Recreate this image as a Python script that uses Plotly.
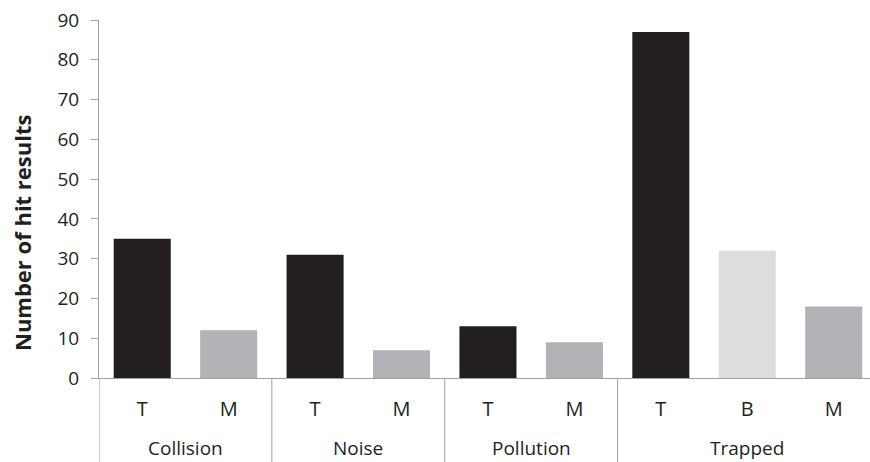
import plotly.graph_objects as go

groups = ["Collision", "Collision", "Noise", "Noise", "Pollution", "Pollution",
          "Trapped", "Trapped", "Trapped"]
types = ["T", "M", "T", "M", "T", "M", "T", "B", "M"]
hits = [35, 12, 31, 7, 13, 9, 87, 32, 18]
y_ticks = [0, 10, 20, 30, 40, 50, 60, 70, 80, 90]
type_colors = {"T": "#231f20", "M": "#b1b3b6", "B": "#dcddde"}

FONT = "Open Sans"
TXT = "#231f20"
AX = "#a0a0a0"

W, H = 870, 462
M_L, M_R, M_T, M_B = 99, 0, 20, 84
PLOT_H = H - M_T - M_B

pos = list(range(len(types)))

# group spans (derived from the data order)
group_names = []
group_spans = {}
for i, g in enumerate(groups):
    if g not in group_spans:
        group_names.append(g)
        group_spans[g] = [i, i]
    group_spans[g][1] = i

fig = go.Figure(go.Bar(
    x=pos,
    y=hits,
    marker=dict(color=[type_colors[t] for t in types], line=dict(width=0)),
    customdata=[[g, t] for g, t in zip(groups, types)],
    hovertemplate="%{customdata[0]} %{customdata[1]}: %{y}<extra></extra>",
))

label_y = -69.5 / PLOT_H
div_y = -(M_B + 4) / PLOT_H

for g in group_names:
    a, b = group_spans[g]
    fig.add_annotation(x=(a + b) / 2, y=label_y, xref="x", yref="paper",
                       text=g, showarrow=False, yanchor="middle",
                       font=dict(family=FONT, size=19, color=TXT))
bounds = [group_spans[group_names[0]][0] - 0.5] + [group_spans[g][1] + 0.5 for g in group_names]
for bx in bounds:
    fig.add_shape(type="line", xref="x", yref="paper", x0=bx, x1=bx, y0=0, y1=div_y,
                  line=dict(color=AX, width=1), layer="above")

# y-axis title (placed like the reference, slightly below the plot's centre)
fig.add_annotation(x=0, xref="paper", xanchor="center", xshift=-(M_L - 22),
                   y=(PLOT_H + M_T - 233) / PLOT_H, yref="paper", yanchor="middle",
                   text="<b>Number of hit results</b>", textangle=-90, showarrow=False,
                   font=dict(family=FONT, size=22, color=TXT))

fig.update_layout(
    width=W, height=H,
    margin=dict(l=M_L, r=M_R, t=M_T, b=M_B),
    plot_bgcolor="white", paper_bgcolor="white",
    bargap=0.34,
    showlegend=False,
    font=dict(family=FONT, color=TXT, size=18),
)
fig.update_xaxes(
    range=[-0.5, 8.42],
    tickvals=pos, ticktext=types,
    showline=True, linecolor=AX, linewidth=1,
    ticks="", ticklabelstandoff=13,
    tickfont=dict(family=FONT, size=20, color=TXT),
    showgrid=False, zeroline=False, automargin=False,
)
fig.update_yaxes(
    range=[0, 90],
    tickvals=y_ticks,
    showline=True, linecolor=AX, linewidth=1,
    ticks="outside", ticklen=7, tickcolor=AX, ticklabelstandoff=8,
    tickfont=dict(family=FONT, size=19, color=TXT),
    showgrid=False, zeroline=False, automargin=False,
)

fig.write_html("out.html", config={"displayModeBar": False},
               post_script=["document.body.style.margin='0';"])
